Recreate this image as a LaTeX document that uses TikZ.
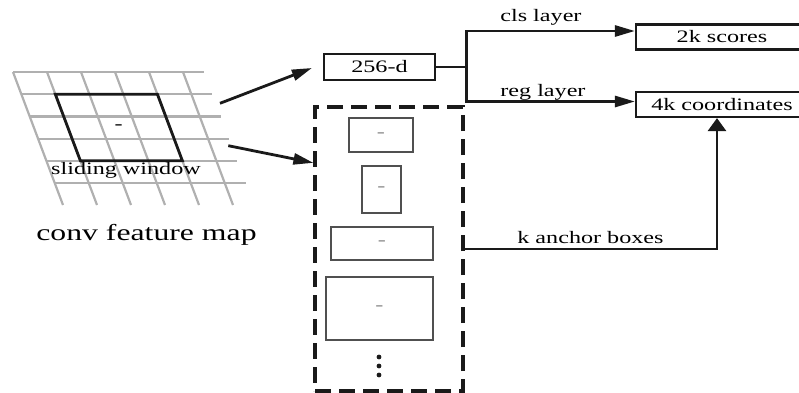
\documentclass[tikz,border=0pt]{standalone}
\usepackage{fontspec}
\setmainfont[FakeStretch=1.38]{Liberation Serif}
\usetikzlibrary{positioning,arrows.meta,calc}
\definecolor{ink}{HTML}{1A1A1A}
\definecolor{gridgray}{HTML}{B0B0B0}
\definecolor{boxgray}{HTML}{505050}
\definecolor{markgray}{HTML}{8A8A8A}
\tikzset{
  gridln/.style  = {draw=gridgray, line width=1.1pt},
  window/.style  = {draw=ink, line width=1.4pt},
  box/.style     = {draw=ink, line width=1.1pt, inner sep=0pt, minimum height=13pt},
  anc/.style     = {draw=boxgray, text=markgray, line width=1.1pt, inner sep=0pt},
  dashbox/.style = {draw=ink, line width=1.6pt, dash pattern=on 8pt off 4pt},
  lbl/.style     = {text=black, inner sep=0pt},
  conn/.style    = {draw=ink, line width=1.4pt},
  tiph/.style    = {-{Triangle[length=10pt,width=5.5pt]}},
  tipv/.style    = {-{Triangle[length=6.5pt,width=9pt]}},
}

\begin{document}
\begin{tikzpicture}[x=0.5pt,y=-0.5pt,font=\fontsize{8.75}{10}\selectfont]
  \useasboundingbox (0,0) rectangle (799,392);
  % feature map grid
  \foreach \i in {0,...,5}
    \draw[gridln] ({13+8.35*\i},{72+22.2*\i}) -- ++(191,0);
  \foreach \j in {0,...,5}
    \draw[gridln] ({13+34*\j},72) -- ++(50,133);
  \draw[window] (55.3,94.2) -- (157.4,94.2) -- (182.4,160.8) -- (80.4,160.8) -- cycle;
  \node[lbl] (ctr) at (118.6,127.5) {-};
  \node[lbl, anchor=base] (slide) at (126,174) {sliding window};
  \node[lbl, anchor=base, font=\fontsize{11.5}{13}\selectfont] (fmap) at (146.5,240.7) {conv feature map};
  \coordinate (mapout1) at (220,103.3);
  \coordinate (mapout2) at (228.3,145.7);

  % intermediate layer and outputs
  \node[box, minimum width=55.5pt] (feat) at (379.5,67) {256-d};
  \node[box, minimum width=86pt, minimum height=12.5pt] (scores) at (722,37) {2k scores};
  \node[box, minimum width=86pt, minimum height=12.5pt] (coords) at (722,104.5) {4k coordinates};

  % anchors
  \node[dashbox, minimum width=74pt, minimum height=142pt] (anchors) at (389,249) {};
  \node[anc, minimum width=32pt, minimum height=17pt] (a1) at (381,135) {-};
  \node[anc, minimum width=19.5pt, minimum height=23.5pt] (a2) at (381.5,189.5) {-};
  \node[anc, minimum width=51pt, minimum height=16.5pt] (a3) at (382,243.5) {-};
  \node[anc, minimum width=53.5pt, minimum height=31.5pt] (a4) at (379.5,308.5) {-};
  \foreach \y in {357,366,375}
    \fill[ink] (379,\y) circle (2.4);

  % connectors
  \draw[conn,tiph] (mapout1) -- ($(feat.west)+(-11,1)$);
  \draw[conn,tiph] (mapout2) -- ($(anchors.north west)!0.2!(anchors.south west)$);
  \draw[conn] (feat.east) -- ++(30,0) coordinate (split);
  \draw[conn,tiph] (split) |- ([yshift=3pt]scores.west);
  \draw[conn,tiph] (split) |- ([yshift=1.5pt]coords.west);
  \draw[conn,tipv] (anchors.east) -| ([xshift=-2.5pt]coords.south);
  \node[lbl, anchor=base west] (cls) at (500,21.7) {cls layer};
  \node[lbl, anchor=base west] (reg) at (500,96.7) {reg layer};
  \node[lbl, anchor=base west] (kanc) at (517,243.3) {k anchor boxes};
\end{tikzpicture}
\end{document}
